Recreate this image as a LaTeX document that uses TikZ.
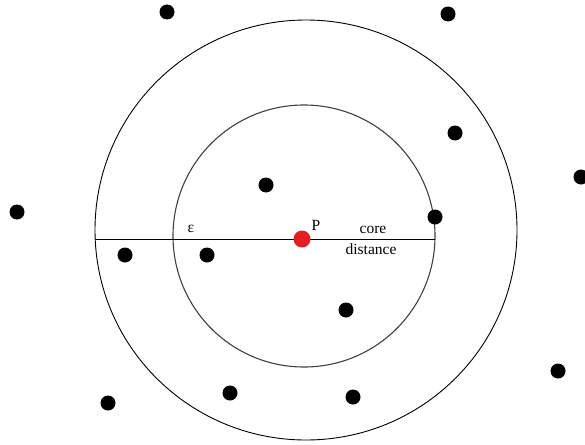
\documentclass[tikz,border=0pt]{standalone}
\usepackage{fontspec}
\setmainfont{Liberation Serif}
\definecolor{pred}{RGB}{228,30,37}
\begin{document}
\begin{tikzpicture}[x=1pt,y=-1pt,
  pt/.style={circle,fill=black,inner sep=0pt,minimum size=15pt},
  ring/.style={draw=black,line width=0.9pt},
  lbl/.style={font=\fontsize{15.5}{17}\selectfont,inner sep=0pt}]
\useasboundingbox (0,0) rectangle (585,444);
\draw[ring] (306,230) ellipse [x radius=211, y radius=210];
\draw[ring,draw=black!75,line width=1.1pt] (304,236) circle [radius=131];
\coordinate (L) at (95,239);
\coordinate (R) at (435,239);
\draw[line width=0.9pt] (L) -- (R);
\node[circle,fill=pred,inner sep=0pt,minimum size=17pt] (P) at (302,239) {};
\node[pt] (d1) at (167,12) {};
\node[pt] (d2) at (448,14) {};
\node[pt] (d3) at (455,133) {};
\node[pt] (d4) at (581,177) {};
\node[pt] (d5) at (17,212) {};
\node[pt] (d6) at (266,185) {};
\node[pt] (d7) at (435,217) {};
\node[pt] (d8) at (125,255) {};
\node[pt] (d9) at (207,255) {};
\node[pt] (d10) at (346,310) {};
\node[pt] (d11) at (558,371) {};
\node[pt] (d12) at (230,393) {};
\node[pt] (d13) at (353,397) {};
\node[pt] (d14) at (108,403) {};
\node[lbl] (eps) at (191,229) {ε};
\node[lbl] (plbl) at (316,225) {P};
\node[lbl] (core) at (373,230) {core};
\node[lbl] (dist) at (371,249) {distance};
\end{tikzpicture}
\end{document}
